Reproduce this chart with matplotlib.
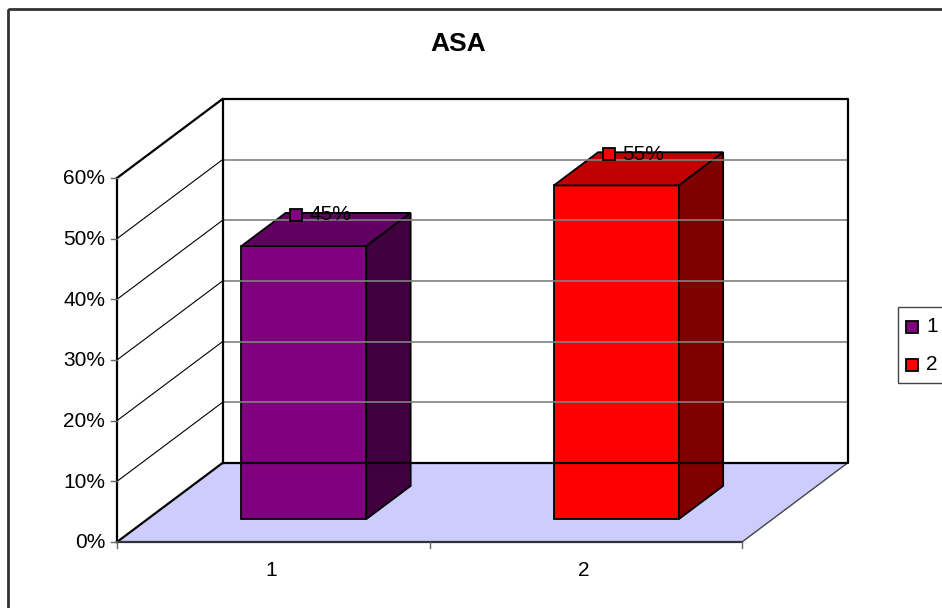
import matplotlib.pyplot as plt
from matplotlib.patches import Polygon, Rectangle

# Data
categories = ["1", "2"]
values = [0.45, 0.55]
labels = ["45%", "55%"]
front_colors = ["#800080", "#FF0000"]
top_colors = ["#600060", "#C00000"]
side_colors = ["#400040", "#800000"]
y_ticks = [0.0, 0.1, 0.2, 0.3, 0.4, 0.5, 0.6]
y_tick_labels = ["0%", "10%", "20%", "30%", "40%", "50%", "60%"]
title = "ASA"

plt.rcParams['font.family'] = ['Liberation Sans', 'DejaVu Sans']

# 3D-ish projection in pixel space
X0, Y0 = 117, 542        # front-left-bottom corner
WIDTH = 625              # width of the floor front edge
HEIGHT = 364 / 0.6       # pixels per 1.0 of value
DX, DY = 105.5, -79      # depth offset
YMAX = 0.6
NCAT = len(categories)
FS = 15


def proj(u, v, d):
    x = X0 + u * WIDTH / NCAT + d * DX
    y = Y0 - v * HEIGHT + d * DY
    return (x, y)


fig = plt.figure(figsize=(9.42, 6.08), dpi=100)
ax = fig.add_axes([0, 0, 1, 1])
ax.set_xlim(0, 942)
ax.set_ylim(608, 0)
ax.axis('off')

# outer chart border
ax.add_patch(Rectangle((8, 9), 960, 620, fill=False, edgecolor="#333333", lw=2))

# floor
floor = [proj(0, 0, 0), proj(NCAT, 0, 0), proj(NCAT, 0, 1), proj(0, 0, 1)]
ax.add_patch(Polygon(floor, closed=True, facecolor="#CCCCFF", edgecolor="none"))
ax.plot(*zip(proj(NCAT, 0, 0), proj(NCAT, 0, 1)), color="#444444", lw=1)

# gridlines: back wall (gray) and side wall (black)
for t in y_ticks[1:-1]:
    ax.plot(*zip(proj(0, t, 1), proj(NCAT, t, 1)), color="#808080", lw=1.2)
    ax.plot(*zip(proj(0, t, 0), proj(0, t, 1)), color="black", lw=0.8)

# walls outline
ax.plot(*zip(proj(0, 0, 1), proj(0, YMAX, 1), proj(NCAT, YMAX, 1), proj(NCAT, 0, 1), proj(0, 0, 1)),
        color="black", lw=1.6)
ax.plot(*zip(proj(0, 0, 0), proj(0, 0, 1)), color="black", lw=1.6)
ax.plot(*zip(proj(0, YMAX, 0), proj(0, YMAX, 1)), color="black", lw=1.6)
ax.plot(*zip(proj(0, 0, 0), proj(0, YMAX, 0)), color="black", lw=1.6)
ax.plot(*zip(proj(0, 0, 0), proj(NCAT, 0, 0)), color="#333333", lw=1.6)

# y ticks and labels
for t, lab in zip(y_ticks, y_tick_labels):
    x, y = proj(0, t, 0)
    ax.plot([x - 6, x], [y, y], color="#666666", lw=1)
    ax.text(x - 12, y + 1, lab, ha="right", va="center", fontsize=FS)

# x ticks and labels
for i in range(NCAT + 1):
    x, y = proj(i, 0, 0)
    ax.plot([x, x], [y, y + 6], color="#666666", lw=1)
for i, cat in enumerate(categories):
    x, y = proj(i + 0.5, 0, 0)
    ax.text(x - 2, y + 28, cat, ha="center", va="center", fontsize=FS)

# bars
half_w = 0.2
d0, d1 = 0.29, 0.71
for i, v in enumerate(values):
    ul, ur = i + 0.5 - half_w, i + 0.5 + half_w
    front = [proj(ul, 0, d0), proj(ur, 0, d0), proj(ur, v, d0), proj(ul, v, d0)]
    top = [proj(ul, v, d0), proj(ur, v, d0), proj(ur, v, d1), proj(ul, v, d1)]
    side = [proj(ur, 0, d0), proj(ur, 0, d1), proj(ur, v, d1), proj(ur, v, d0)]
    for poly, col in ((front, front_colors[i]), (top, top_colors[i]), (side, side_colors[i])):
        ax.add_patch(Polygon(poly, closed=True, facecolor=col, edgecolor="black", lw=1.3,
                             joinstyle="miter"))

# data labels
for i, (v, lab) in enumerate(zip(values, labels)):
    x, _ = proj(i + 0.5, v, 0.5)
    _, y = proj(i + 0.5, v, d1)
    ax.add_patch(Rectangle((x - 36, y - 4), 12, 12, facecolor=front_colors[i],
                           edgecolor="black", lw=1.3, zorder=5))
    ax.text(x - 16, y + 2, lab, ha="left", va="center", fontsize=FS, color="black", zorder=6)

# title
ax.text(458, 44, title, ha="center", va="center", fontsize=19, fontweight="bold")

# legend
ax.add_patch(Rectangle((898, 307), 80, 76, facecolor="white", edgecolor="#444444", lw=1))
for i, cat in enumerate(categories):
    y = 327 + i * 37.5
    ax.add_patch(Rectangle((906, y - 6), 12, 12, facecolor=front_colors[i],
                           edgecolor="black", lw=1.3))
    ax.text(926, y, cat, ha="left", va="center", fontsize=FS)

fig.savefig("out.png", dpi=100)
